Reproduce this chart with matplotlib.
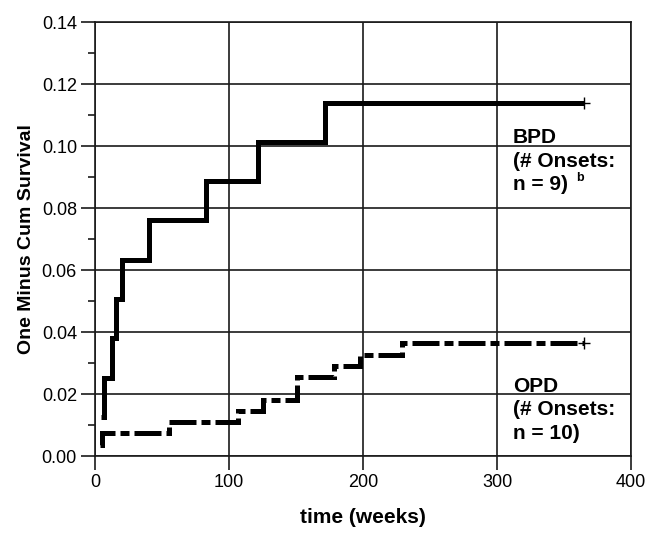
import matplotlib
matplotlib.use('Agg')
import matplotlib.pyplot as plt
from matplotlib.ticker import MultipleLocator, FormatStrFormatter

plt.rcParams['font.family'] = ['Liberation Sans', 'DejaVu Sans']

# onset times (weeks) and cumulative "one minus survival" after each onset
bpd_weeks = [4.5, 7, 13, 16, 20, 40, 83, 122, 172]
bpd_level = [0.0127, 0.0253, 0.0380, 0.0506, 0.0633, 0.0760, 0.0886, 0.1013, 0.1139]
opd_weeks = [4, 5.5, 55, 107, 125, 151, 178, 198, 229]
opd_level = [0.0036, 0.0073, 0.0109, 0.0145, 0.0182, 0.0255, 0.0291, 0.0327, 0.0364]
end_week = 365  # last follow-up (censored)

bpd_lines = ['BPD', '(# Onsets:', 'n = 9)']
opd_lines = ['OPD', '(# Onsets:', 'n = 10)']

fig = plt.figure(figsize=(6.58, 5.38), dpi=100)
ax = fig.add_axes([0.1444, 0.1524, 0.8146, 0.8066])

# 绘制阶梯线
ax.step(bpd_weeks + [end_week], bpd_level + [bpd_level[-1]], where='post',
        color='black', lw=3.6, solid_joinstyle='miter', solid_capstyle='butt')
opd_line, = ax.step(opd_weeks + [end_week], opd_level + [opd_level[-1]], where='post',
                    color='black', lw=3.6, dash_capstyle='butt', dash_joinstyle='miter')
opd_line.set_dashes((5.4, 1.0, 1.8, 1.0))

# censor marks
ax.plot([end_week], [bpd_level[-1]], marker='+', color='black', ms=8, mew=1)
ax.plot([end_week], [opd_level[-1]], marker='+', color='black', ms=8, mew=1)

# group labels, one text per line (baseline positions)
step = 0.0076
for i, s in enumerate(bpd_lines):
    ax.text(312, 0.1009 - i * step, s, fontsize=15, fontweight='bold', va='baseline', ha='left')
for i, s in enumerate(opd_lines):
    ax.text(312, 0.0207 - i * step, s, fontsize=15, fontweight='bold', va='baseline', ha='left')
# 上标 b
ax.text(359, 0.0877, 'b', fontsize=9, fontweight='bold', va='bottom', ha='left')

ax.set_xlim(0, 400)
ax.set_ylim(0, 0.14)
ax.xaxis.set_major_locator(MultipleLocator(100))
ax.yaxis.set_major_locator(MultipleLocator(0.02))
ax.yaxis.set_minor_locator(MultipleLocator(0.01))
ax.yaxis.set_major_formatter(FormatStrFormatter('%.2f'))

ax.grid(True, which='major', color='#1a1a1a', lw=1.2)
ax.set_axisbelow(True)
for s in ax.spines.values():
    s.set_linewidth(1.2)
    s.set_color('#1a1a1a')

ax.tick_params(which='major', length=10, width=1.2, labelsize=13, color='#1a1a1a', pad=3)
ax.tick_params(which='minor', length=5, width=1.2, color='#1a1a1a')

ax.set_xlabel('time (weeks)', fontsize=15, fontweight='bold', labelpad=12)
ax.set_ylabel('One Minus Cum Survival', fontsize=14, fontweight='bold', labelpad=5)

fig.savefig('out.png', dpi=100)
